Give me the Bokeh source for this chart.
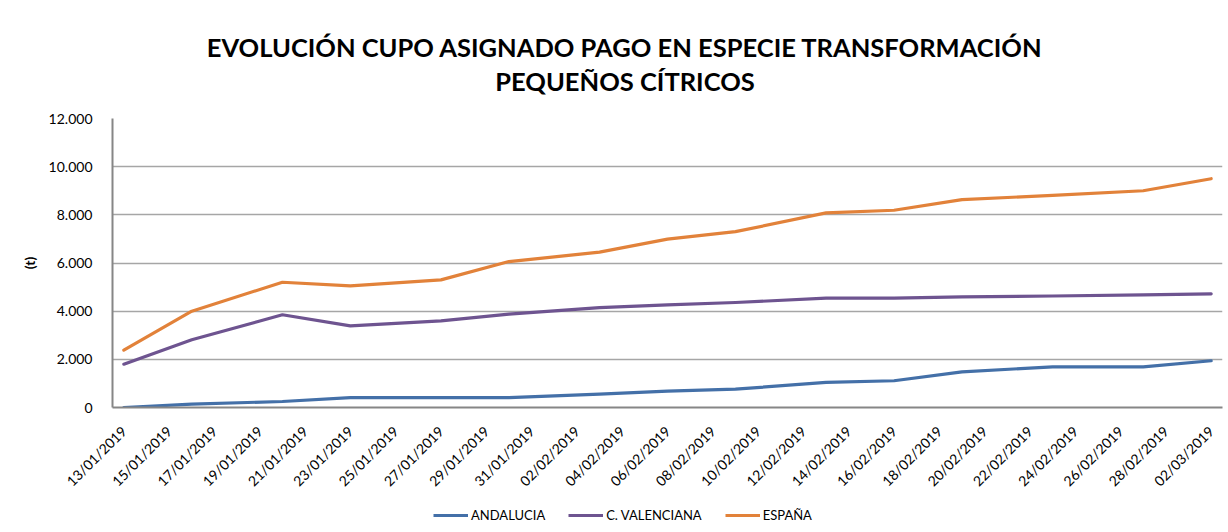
import math
import pandas as pd
from bokeh.plotting import figure
from bokeh.layouts import column
from bokeh.models import (Range1d, FixedTicker, DatetimeTickFormatter, Legend, LegendItem)
from bokeh.core.properties import value
from bokeh.embed import file_html
from bokeh.resources import INLINE

# ---- data ----
dates = ["13/01/2019", "16/01/2019", "20/01/2019", "23/01/2019", "27/01/2019",
         "30/01/2019", "03/02/2019", "06/02/2019", "09/02/2019", "13/02/2019",
         "16/02/2019", "19/02/2019", "23/02/2019", "27/02/2019", "02/03/2019"]
andalucia = [0, 140, 250, 410, 410, 410, 555, 680, 760, 1040, 1110, 1480, 1690, 1690, 1940]
c_valenciana = [1800, 2810, 3850, 3390, 3600, 3875, 4150, 4260, 4360, 4540, 4540, 4590, 4630, 4680, 4720]
espana = [2380, 4000, 5200, 5050, 5300, 6060, 6450, 6990, 7300, 8080, 8190, 8630, 8810, 9000, 9500]
series_names = ["ANDALUCIA", "C. VALENCIANA", "ESPAÑA"]

x_tick_labels = ["13/01/2019", "15/01/2019", "17/01/2019", "19/01/2019", "21/01/2019",
                 "23/01/2019", "25/01/2019", "27/01/2019", "29/01/2019", "31/01/2019",
                 "02/02/2019", "04/02/2019", "06/02/2019", "08/02/2019", "10/02/2019",
                 "12/02/2019", "14/02/2019", "16/02/2019", "18/02/2019", "20/02/2019",
                 "22/02/2019", "24/02/2019", "26/02/2019", "28/02/2019", "02/03/2019"]
y_ticks = [0, 2000, 4000, 6000, 8000, 10000, 12000]
y_tick_labels = ["0", "2.000", "4.000", "6.000", "8.000", "10.000", "12.000"]

title_lines = ["EVOLUCIÓN CUPO ASIGNADO PAGO EN ESPECIE TRANSFORMACIÓN", "PEQUEÑOS CÍTRICOS"]
y_label = "(t)"

# ---- style ----
colors = ["#4470A8", "#6E5490", "#E2823A"]
FONT = "Lato"
W = 1228
TITLE_H = 110
MAIN_H = 390
LEG_H = 32


def strip(height):
    f = figure(width=W, height=height, output_backend="svg", toolbar_location=None,
               x_range=Range1d(0, W), y_range=Range1d(0, height),
               x_axis_location=None, y_axis_location=None, frame_align=False,
               min_border=0, min_border_left=0, min_border_right=0,
               min_border_top=0, min_border_bottom=0)
    f.outline_line_color = None
    f.xgrid.visible = False
    f.ygrid.visible = False
    return f


# ---- title strip ----
pt = strip(TITLE_H)
pt.text(x=[624.5, 624.5], y=[TITLE_H - 46, TITLE_H - 80], text=title_lines, text_align="center",
        text_baseline="middle", text_font=value(FONT), text_font_size="25.5px",
        text_font_style="bold", text_color="#000000")

# ---- main chart ----
x = pd.to_datetime(dates, format="%d/%m/%Y")
xt = pd.to_datetime(x_tick_labels, format="%d/%m/%Y")
to_ms = lambda t: t.value / 1e6
half_day = 12 * 3600 * 1000
x_start = to_ms(xt[0]) - half_day
x_end = to_ms(xt[-1]) + half_day

p = figure(width=W, height=MAIN_H, x_axis_type="datetime", output_backend="svg",
           toolbar_location=None, min_border_left=112, min_border_right=6,
           min_border_top=8, min_border_bottom=93, frame_align=False,
           x_range=Range1d(x_start, x_end), y_range=Range1d(0, 12000))
p.outline_line_color = None

for vals, col in zip([andalucia, c_valenciana, espana], colors):
    p.line(x, vals, line_color=col, line_width=3.2, line_join="round", line_cap="round")

p.xaxis.ticker = FixedTicker(ticks=[to_ms(t) for t in xt])
fmt = "%d/%m/%Y"
p.xaxis.formatter = DatetimeTickFormatter(microseconds=fmt, milliseconds=fmt, seconds=fmt,
                                          minsec=fmt, minutes=fmt, hourmin=fmt, hours=fmt,
                                          days=fmt, months=fmt, years=fmt)
p.xaxis.major_label_orientation = math.pi / 4
p.xaxis.major_label_text_font = FONT
p.xaxis.major_label_text_font_size = "14px"
p.xaxis.major_label_text_color = "#000000"
p.xaxis.major_label_standoff = 15
p.xaxis.major_tick_line_color = None
p.xaxis.minor_tick_line_color = None
p.xaxis.axis_line_color = "#868686"
p.xaxis.axis_line_width = 2

p.yaxis.ticker = FixedTicker(ticks=y_ticks)
p.yaxis.major_label_overrides = {t: l for t, l in zip(y_ticks, y_tick_labels)}
p.yaxis.major_label_text_font = FONT
p.yaxis.major_label_text_font_size = "14px"
p.yaxis.major_label_text_color = "#000000"
p.yaxis.major_label_standoff = 14
p.yaxis.major_tick_line_color = None
p.yaxis.minor_tick_line_color = None
p.yaxis.axis_line_color = "#868686"
p.yaxis.axis_line_width = 2
p.yaxis.axis_label = y_label
p.yaxis.axis_label_text_font = FONT
p.yaxis.axis_label_text_font_size = "14px"
p.yaxis.axis_label_text_font_style = "bold"
p.yaxis.axis_label_text_color = "#000000"
p.yaxis.axis_label_standoff = 8

p.xgrid.grid_line_color = None
p.ygrid.grid_line_color = "#A6A6A6"
p.ygrid.grid_line_width = 1.3

# ---- legend strip (legend entries for the three series) ----
pl = strip(LEG_H)
nan = float("nan")
leg_renderers = [pl.line(x=[nan, nan], y=[nan, nan], line_color=col, line_width=3.2)
                 for col in colors]
legend = Legend(items=[LegendItem(label=n, renderers=[r]) for n, r in zip(series_names, leg_renderers)],
                orientation="horizontal", location=(433, 9),
                glyph_width=35, glyph_height=16, label_standoff=3, spacing=23,
                padding=0, margin=0, border_line_color=None, background_fill_alpha=0,
                label_text_font=FONT, label_text_font_size="13px", label_text_color="#000000")
pl.add_layout(legend, "center")

open("out.html", "w").write(file_html(column(pt, p, pl, spacing=0), INLINE))
